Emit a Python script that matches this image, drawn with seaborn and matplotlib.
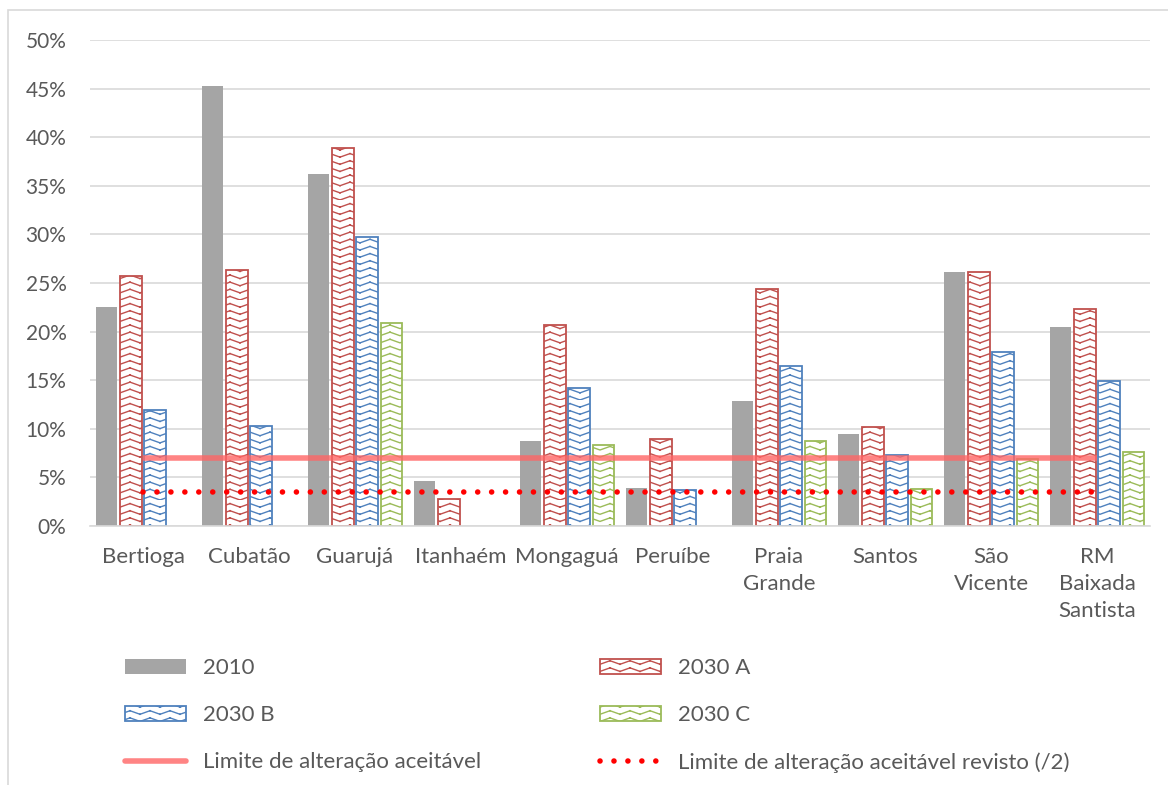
import numpy as np
import pandas as pd
import matplotlib
matplotlib.use("Agg")
import matplotlib.pyplot as plt
import matplotlib.hatch as mhatch
from matplotlib.path import Path
from matplotlib.patches import Patch, Rectangle
from matplotlib.lines import Line2D
import seaborn as sns
import warnings
warnings.filterwarnings("ignore")

# ---------------- data ----------------
categories = ["Bertioga", "Cubatão", "Guarujá", "Itanhaém", "Mongaguá", "Peruíbe",
              "Praia\nGrande", "Santos", "São\nVicente", "RM\nBaixada\nSantista"]
series_names = ["2010", "2030 A", "2030 B", "2030 C"]
v2010 = [22.5, 45.3, 36.2, 4.6, 8.7, 3.9, 12.9, 9.5, 26.1, 20.5]
v2030a = [25.7, 26.3, 38.9, 2.8, 20.7, 9.0, 24.4, 10.2, 26.1, 22.3]
v2030b = [11.9, 10.3, 29.7, np.nan, 14.2, 3.7, 16.5, 7.3, 17.9, 14.9]
v2030c = [np.nan, np.nan, 20.9, np.nan, 8.3, np.nan, 8.7, 3.8, 6.9, 7.6]
limit_value = 7.0
limit_revised = 3.5
limit_label = "Limite de alteração aceitável"
revised_label = "Limite de alteração aceitável revisto (/2)"
ytick_values = [0, 5, 10, 15, 20, 25, 30, 35, 40, 45, 50]

# ---------------- custom zigzag (chevron) hatch ----------------
class ZigZagHatch(mhatch.HatchPatternBase):
    teeth = 5

    def __init__(self, hatch, density):
        self.num_lines = int(round(hatch.count('z') * density * 7 / 6))
        # each tooth = 2 independent segments (no filled area)
        self.num_vertices = self.num_lines * self.teeth * 4

    def set_vertices_and_codes(self, vertices, codes):
        steps, stepsize = np.linspace(0.0, 1.0, self.num_lines, False, retstep=True)
        amp = stepsize * 0.5
        xs = np.linspace(0.0, 1.0, 2 * self.teeth + 1)
        k = 0
        for s in steps:
            for t in range(self.teeth):
                x0, x1, x2 = xs[2 * t], xs[2 * t + 1], xs[2 * t + 2]
                pts = [(x0, s), (x1, s + amp), (x1, s + amp), (x2, s)]
                for j, (px, py) in enumerate(pts):
                    vertices[k, 0] = px
                    vertices[k, 1] = py
                    codes[k] = Path.MOVETO if j % 2 == 0 else Path.LINETO
                    k += 1

if ZigZagHatch not in mhatch._hatch_types:
    mhatch._hatch_types.append(ZigZagHatch)

# ---------------- frame ----------------
df = pd.DataFrame({
    "cat": np.repeat(categories, 4),
    "serie": series_names * len(categories),
    "val": np.ravel(np.column_stack([v2010, v2030a, v2030b, v2030c])),
})
df = df.dropna()
df["cat"] = pd.Categorical(df["cat"], categories=categories, ordered=True)
df["serie"] = pd.Categorical(df["serie"], categories=series_names, ordered=True)

sns.set_theme(style="white")
plt.rcParams["font.family"] = ["Lato", "DejaVu Sans"]
plt.rcParams["hatch.linewidth"] = 1.0

text_color = "#595959"
fs = 16
fig = plt.figure(figsize=(11.68, 7.85), dpi=100)
ax = fig.add_axes([90 / 1168, 1 - 526 / 785, (1150 - 90) / 1168, (526 - 40) / 785])

sns.barplot(data=df, x="cat", y="val", hue="serie", order=categories,
            hue_order=series_names, palette=["#a5a5a5"] * 4, width=0.92, gap=0.12,
            ax=ax, legend=False, errorbar=None, saturation=1)

edge_cols = [None, "#c0504d", "#4f81bd", "#9bbb59"]
for cont, ec in zip(ax.containers, edge_cols):
    for p in cont.patches:
        if ec is None:
            p.set_facecolor("#a5a5a5")
            p.set_edgecolor("none")
        else:
            p.set_facecolor("white")
            p.set_edgecolor(ec)
            p.set_linewidth(1.3)
            p.set_hatch("zz")

xpos = np.arange(len(categories))
dot_style = dict(color="#ff0000", lw=4.0, linestyle=(0, (0.01, 2.5)),
                 dash_capstyle="round")
ax.plot(xpos, [limit_value] * len(categories), color="#ff6666", alpha=0.8, lw=4,
        solid_capstyle="butt", zorder=5)
ax.plot(xpos, [limit_revised] * len(categories), zorder=6, **dot_style)

ax.set_ylim(0, 50)
ax.set_xlim(-0.5, len(categories) - 0.5)
ax.set_yticks(ytick_values)
ax.set_yticklabels([f"{v}%" for v in ytick_values])
ax.yaxis.grid(True, color="#d9d9d9", lw=1.2)
ax.set_axisbelow(True)
for s in ["top", "right", "left"]:
    ax.spines[s].set_visible(False)
ax.spines["bottom"].set_color("#d9d9d9")
ax.spines["bottom"].set_linewidth(1.2)
ax.set_xlabel("")
ax.set_ylabel("")
ax.tick_params(axis="x", length=0, labelsize=fs, colors=text_color, pad=15)
ax.tick_params(axis="y", length=0, labelsize=15, colors=text_color, pad=17)
for t in ax.get_xticklabels():
    t.set_linespacing(1.45)

col1 = [
    Patch(facecolor="#a5a5a5", edgecolor="none", label="2010"),
    Patch(facecolor="white", edgecolor="#4f81bd", hatch="zz", lw=1.3, label="2030 B"),
    Line2D([], [], color="#ff6666", alpha=0.8, lw=4, label=limit_label),
]
col2 = [
    Patch(facecolor="white", edgecolor="#c0504d", hatch="zz", lw=1.3, label="2030 A"),
    Patch(facecolor="white", edgecolor="#9bbb59", hatch="zz", lw=1.3, label="2030 C"),
    Line2D([], [], label=revised_label, **dot_style),
]
leg_kw = dict(loc="upper left", frameon=False, fontsize=fs, handlelength=2.75,
              handleheight=0.65, handletextpad=0.75, labelspacing=1.22,
              borderpad=0, borderaxespad=0, labelcolor=text_color)
leg1 = fig.legend(handles=col1, bbox_to_anchor=(125 / 1168, 1 - 658 / 785), **leg_kw)
leg2 = fig.legend(handles=col2, bbox_to_anchor=(600 / 1168, 1 - 658 / 785), **leg_kw)

fig.patches.append(Rectangle((8 / 1168, -0.1), 1.2, 1 - 10 / 785 + 0.1,
                             transform=fig.transFigure, fill=False,
                             edgecolor="#d9d9d9", lw=1.2))

fig.savefig("out.png", dpi=100)
